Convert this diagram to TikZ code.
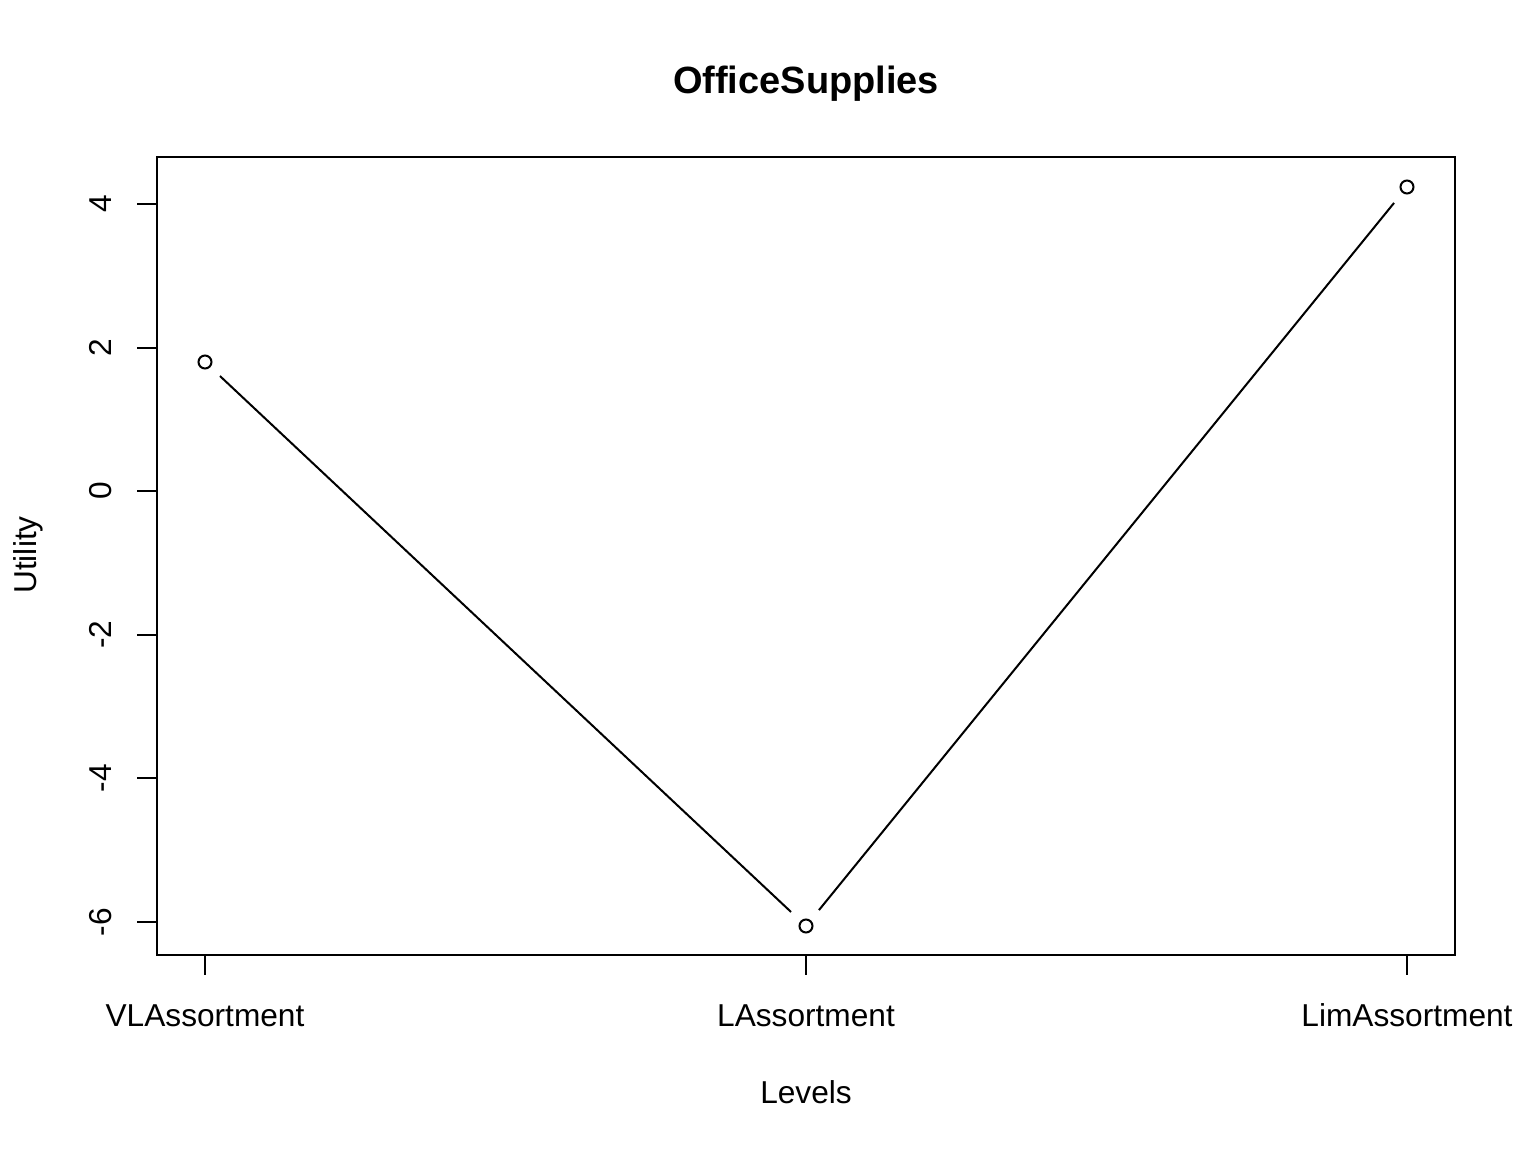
\documentclass[tikz,border=0pt]{standalone}
\usepackage{fontspec}
\setmainfont{Liberation Sans}
\usetikzlibrary{positioning}
\tikzset{>=stealth}

\begin{document}
\begin{tikzpicture}[x=0.01cm, y=-0.01cm, line width=0.57pt,
	pt/.style={draw, circle, inner sep=0pt, minimum size=0.13cm},
	lab/.style={font=\fontsize{9}{11}\selectfont, inner sep=0pt}]
	\useasboundingbox (0,0) rectangle (1536,1152);
	% frame
	\draw (157,157) rectangle (1455,955);
	% points
	\node[pt] (VL) at (205,362) {};
	\node[pt] (L) at (806,926) {};
	\node[pt] (Lim) at (1407,187) {};
	\draw [shorten <=0.13cm, shorten >=0.13cm](VL) -- (L);
	\draw [shorten <=0.13cm, shorten >=0.13cm](L) -- (Lim);
	% x axis
	\foreach \x/\t in {205/VLAssortment, 806/LAssortment, 1407/LimAssortment}{
		\draw (\x,955) -- (\x,975);
		\node[lab, anchor=base] at (\x,1026) {\t};
	}
	% y axis
	\foreach \y/\t in {204/4, 347.6/2, 491.2/0, 634.8/-2, 778.4/-4, 922/-6}{
		\draw (157,\y) -- (137,\y);
		\node[lab, rotate=90, anchor=base] at (111,\y) {\t};
	}
	\node[lab, anchor=base] (xl) at (806,1103) {Levels};
	\node[lab, rotate=90, anchor=base] (yl) at (36,555) {Utility};
	\node[font=\fontsize{10.8}{13}\selectfont\bfseries, inner sep=0pt, anchor=base] (title) at (806,93.5) {OfficeSupplies};
\end{tikzpicture}
\end{document}
